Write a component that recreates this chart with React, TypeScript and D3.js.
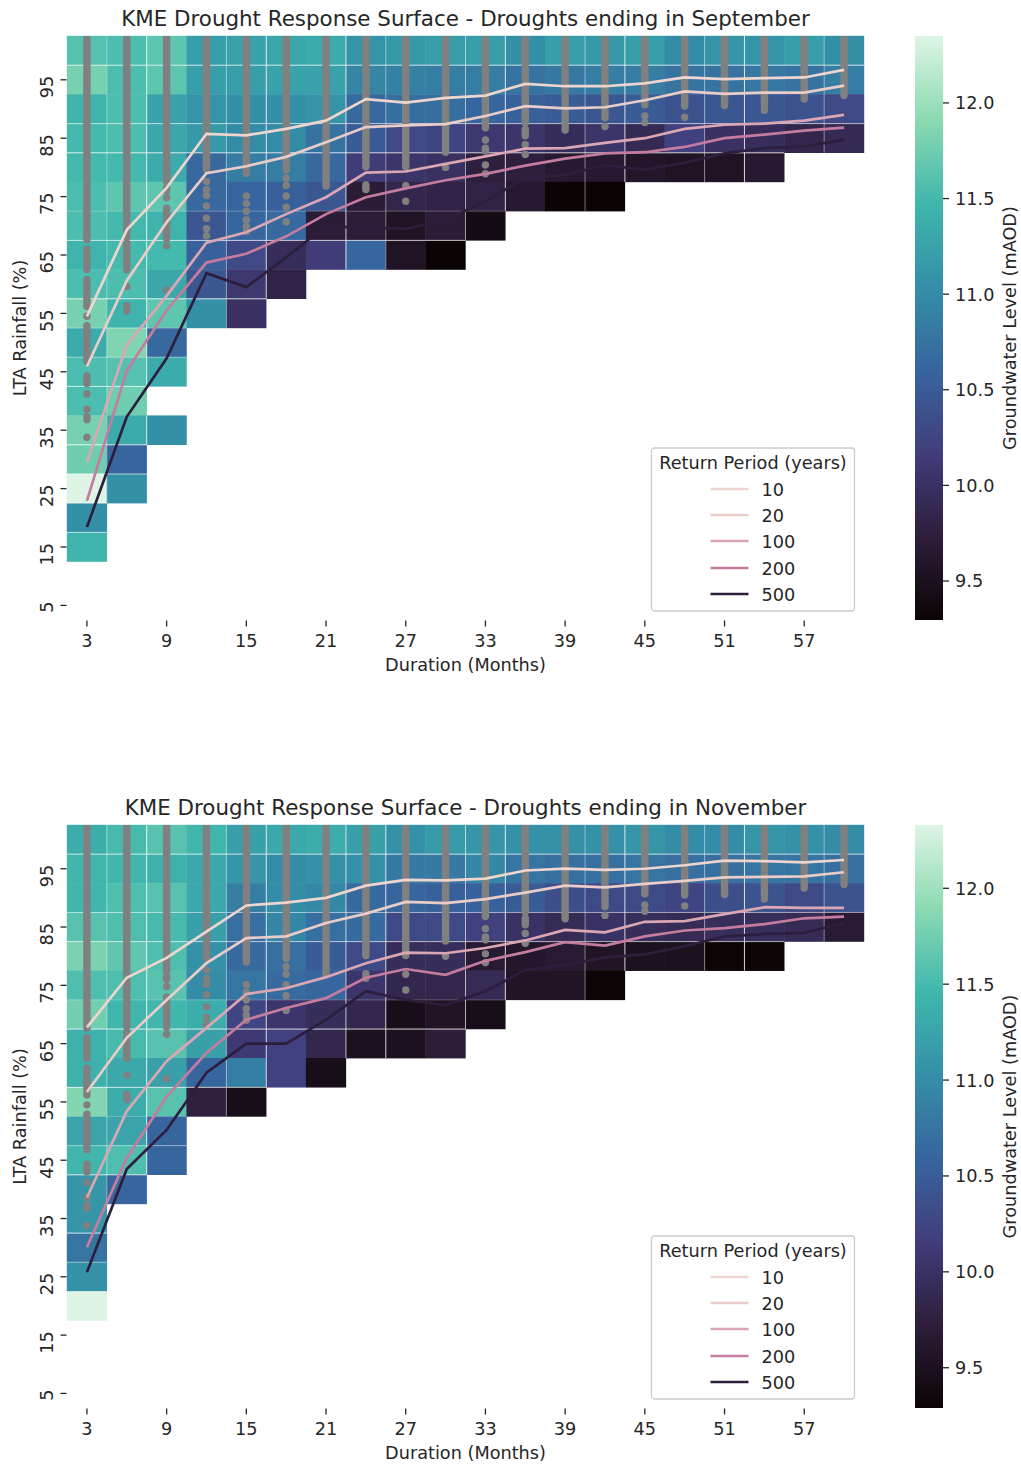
import React from "react";
import * as d3 from "d3";

const durations = [3,6,9,12,15,18,21,24,27,30,33,36,39,42,45,48,51,54,57,60];
const rainfallRows = [100,95,90,85,80,75,70,65,60,55,50,45,40,35,30,25,20,15,10,5];
const xTicks = [3,9,15,21,27,33,39,45,51,57];
const yTicks = [95,85,75,65,55,45,35,25,15,5];
const cbarTicks = [9.5,10,10.5,11,11.5,12];
const returnPeriods = ["10","20","100","200","500"];
const lineColors = ["#eed5cf","#eacdc9","#dba7b4","#c47d9e","#2d1e3e"];
const makoStops = ["#0B0405","#2e1e3b","#413d7b","#37659e","#348fa7","#40b7ad","#8bdab2","#DEF5E5"];

const sepGrid: number[][] = [
  [11.6,11.55,11.65,11.2,11.25,11.3,11.35,11.1,11.15,11.2,11.2,11.05,11.2,11.15,11.2,11.0,11.1,11.1,11.2,11.05],
  [11.8,11.55,11.65,11.2,11.2,11.25,11.25,10.95,10.9,10.85,10.85,10.75,10.8,10.85,10.85,10.75,10.75,10.8,10.75,10.85],
  [11.45,11.55,11.25,11.1,11.05,11.05,11.1,10.65,10.7,10.7,10.6,10.55,10.5,10.45,10.5,10.4,10.45,10.45,10.4,10.3],
  [11.5,11.55,11.3,11.15,11.0,11.0,10.75,10.5,10.3,10.25,10.1,10.05,9.95,10.05,9.9,10.2,10.0,9.95,9.85,9.9],
  [11.5,11.5,11.35,10.65,10.85,10.85,10.65,10.15,10.05,10.0,9.75,9.75,9.65,9.65,9.6,9.55,9.55,9.65],
  [11.55,11.65,11.65,10.65,10.6,10.55,10.45,9.7,9.85,9.8,9.8,9.65,9.3,9.3],
  [11.55,11.5,11.45,10.45,10.6,10.65,9.7,9.72,9.55,9.7,9.42],
  [11.45,11.5,11.5,10.55,10.3,9.95,10.15,10.6,9.55,9.3],
  [11.55,11.55,11.3,10.45,10.1,9.8],
  [11.8,11.45,11.65,11.05,10.0],
  [11.35,11.85,10.65],
  [11.55,11.6,11.35],
  [11.55,11.75],
  [11.8,11.35,11.05],
  [11.75,10.6],
  [12.35,11.05],
  [11.05],
  [11.45],
  [],
  [],
];

const novGrid: number[][] = [
  [11.35,11.5,11.6,11.45,11.2,11.3,11.35,11.2,11.05,11.15,11.1,11.05,11.05,11.05,11.1,11.0,11.0,11.1,11.05,11.0],
  [11.45,11.45,11.4,11.3,11.1,11.0,11.05,11.05,10.8,10.8,10.95,10.75,10.7,10.7,10.75,10.7,10.7,10.75,10.75,10.7],
  [11.45,11.55,11.6,11.3,10.85,11.0,10.95,10.65,10.6,10.55,10.55,10.5,10.35,10.3,10.3,10.25,10.35,10.4,10.3,10.4],
  [11.6,11.55,11.5,11.2,10.7,10.95,10.7,10.65,10.3,10.3,10.2,10.0,9.9,10.0,9.95,9.9,9.95,9.95,9.9,9.65],
  [11.8,11.65,11.55,11.05,10.65,10.7,10.5,10.3,9.95,9.95,9.65,9.6,9.65,9.55,9.5,9.5,9.3,9.3],
  [11.55,11.55,11.6,11.0,10.75,10.65,10.6,10.05,9.85,9.85,9.9,9.55,9.55,9.3],
  [11.75,11.45,11.45,11.35,10.25,10.05,9.95,9.85,9.45,9.55,9.45],
  [11.4,11.5,11.6,11.2,10.1,10.2,9.85,9.5,9.5,9.7],
  [11.4,11.3,11.2,10.6,10.85,10.2,9.45],
  [11.85,11.35,11.6,9.75,9.45],
  [11.25,11.25,10.6],
  [11.45,11.55,10.6],
  [11.1,10.6],
  [11.1],
  [10.75],
  [11.05],
  [12.33],
  [],
  [],
  [],
];

const sepLines: number[][] = [
  [54.5,69.3,76.5,85.75,85.5,86.6,88.0,91.7,91.1,91.9,92.3,94.3,93.9,93.9,94.4,95.4,95.1,95.3,95.4,96.7],
  [45.9,60.6,70.6,79.0,80.2,81.8,84.3,86.9,87.2,87.4,88.8,90.5,90.1,90.3,91.5,93.0,92.6,92.8,92.8,94.0],
  [29.5,49.6,58.0,67.1,68.9,72.0,74.9,79.1,79.3,80.6,81.9,83.2,83.3,84.2,85.0,86.6,87.3,87.5,88.0,89.0],
  [22.9,45.2,55.5,63.7,65.2,68.2,72.0,74.9,76.4,77.8,78.9,80.3,81.5,82.4,82.6,83.5,85.0,85.6,86.3,86.8],
  [18.4,37.3,47.3,61.9,59.5,64.6,70.0,69.6,69.5,71.0,74.2,78.2,78.7,80.4,79.6,80.8,82.4,83.3,83.6,84.7],
];

const novLines: number[][] = [
  [67.8,76.3,79.7,84.2,88.7,89.2,90.0,92.1,93.1,93.0,93.3,94.7,95.0,94.8,95.0,95.6,96.4,96.3,96.1,96.5],
  [56.7,66.0,72.5,78.8,83.1,83.4,85.7,87.3,89.3,89.1,89.8,90.9,92.1,91.8,92.4,92.9,93.5,93.6,93.7,94.4],
  [38.6,53.4,62.0,67.7,73.5,74.5,76.4,78.8,80.6,80.5,81.4,82.7,84.5,84.1,85.9,86.0,87.2,88.4,88.3,88.3],
  [30.1,45.4,55.9,63.4,69.1,71.1,72.8,76.3,77.8,76.8,79.2,80.7,82.4,81.8,83.4,84.4,84.8,85.5,86.5,86.8],
  [25.8,43.5,50.2,60.0,65.0,65.0,69.1,74.0,72.5,71.6,74.0,77.6,78.5,79.8,80.3,81.7,83.4,83.8,84.0,85.7],
];

// observed droughts per duration, as [high, low] stretches of LTA rainfall (%)
const droughtDots: [number, [number, number][]][] = [
  [3, [[103,67.6],[66,62.5],[60.8,56.2],[54.5,54.5],[52.9,46.8],[44.3,43],[41.2,41.2],[38.6,38.6],[37.3,36.8],[33.8,33.8]]],
  [6, [[103,68],[67,62.5],[59.6,59.6],[56.3,55.4]]],
  [9, [[103,77.5],[76.5,76],[74.8,74.8],[73,67.8],[66.6,66.6],[59,59]]],
  [12, [[103,79.6],[77.6,77.6],[76.2,76.2],[75.2,75.2],[73.4,73.4],[71.3,71.3],[69.5,69.5],[68.3,68.3]]],
  [15, [[103,79],[75.1,75.1],[73.8,73.8],[72.5,72.5],[71,71],[69.9,69.9],[69,69]]],
  [18, [[103,79.6],[78.2,78.2],[76.9,76.9],[75.1,75.1],[73.2,73.2],[70.7,70.7]]],
  [21, [[103,76.8]]],
  [24, [[103,80.1],[77,76.2]]],
  [27, [[103,80.1],[76.9,76.9],[74.2,74.2]]],
  [30, [[103,82.6],[80,80]]],
  [33, [[103,86.8],[84.7,84.7],[83.3,82.8],[80.4,80.4],[78.9,78.9]]],
  [36, [[103,87.6],[86.5,85.4],[83.9,83.9],[82.2,82.2]]],
  [39, [[103,86.4]]],
  [42, [[103,88.5],[87,87]]],
  [45, [[103,90.7],[88.8,88.8],[87.7,87.7]]],
  [48, [[103,90.5],[88.6,88.6]]],
  [51, [[103,90.6]]],
  [54, [[103,90.4],[89.8,89.8]]],
  [57, [[103,91.7]]],
  [60, [[103,92.3]]],
];

const vSeamsTop = [0,.4,.9,0,.5,.9,0,.9,.5,0,.6,.9,0,.5,.9,0,.5,.9,0,.5];
const hSeamsTop = [0,.85,0,.7,.9,0,.3,.8,0,.9,.5,.5,.8,0,.9,.7,.7,.7,0,0];
const vSeamsBottom = [0,.5,.95,0,.5,.9,0,.8,.9,0,.7,.9,0,.5,.9,0,.5,.9,0,.5];
const hSeamsBottom = [0,.85,0,.6,.7,0,.3,.9,0,.8,.2,.5,.9,0,.9,.5,0,0,0,0];

const FONT = "'DejaVu Sans', sans-serif";
const TXT = "#262626";
const FS = 17.7;

const mako = d3.scaleLinear<string>()
  .domain(makoStops.map((_, i) => i / (makoStops.length - 1)))
  .range(makoStops)
  .interpolate(d3.interpolateRgb);

type PanelProps = {
  id: string; title: string; grid: number[][]; lines: number[][];
  top: number; bottom: number;
  vMin: number; vMax: number; vSeams: number[]; hSeams: number[];
};

function Panel(p: PanelProps) {
  const left = 67, right = 864;
  const colW = (right - left) / durations.length;
  const rowH = (p.bottom - p.top) / rainfallRows.length;
  const x = d3.scaleLinear().domain([3, 60]).range([left + colW / 2, right - colW / 2]);
  const y = d3.scaleLinear().domain([100, 5]).range([p.top + rowH / 2, p.bottom - rowH / 2]);
  const cbarY = d3.scaleLinear().domain([p.vMin, p.vMax]).range([p.bottom, p.top]);
  const color = (v: number) => mako((v - p.vMin) / (p.vMax - p.vMin));
  const lineGen = d3.line<number>().x((_, i) => x(durations[i])).y(v => y(v));
  const gradId = `cbar-${p.id}`;
  const clipId = `clip-${p.id}`;
  const midY = (p.top + p.bottom) / 2;
  const legendTop = p.bottom - 172;
  const legendRows = [41, 67, 93, 120, 146];
  return (
    <g fontFamily={FONT} fill={TXT}>
      <defs>
        <linearGradient id={gradId} x1="0" y1="1" x2="0" y2="0">
          {makoStops.map((c, i) => <stop key={i} offset={i / (makoStops.length - 1)} stopColor={c} />)}
        </linearGradient>
        <clipPath id={clipId}><rect x={left} y={p.top} width={right - left} height={p.bottom - p.top} /></clipPath>
      </defs>
      <text x={465.5} y={p.top - 10} textAnchor="middle" fontSize={21.4}>{p.title}</text>

      {p.grid.map((row, r) => row.map((v, c) => (
        <rect key={`${r}-${c}`} x={x(durations[c]) - colW / 2 - 0.2} y={y(rainfallRows[r]) - rowH / 2 - 0.2}
          width={colW + 0.4} height={rowH + 0.4} fill={color(v)} />
      )))}
      {p.grid.map((row, r) => row.map((_, c) => {
        const cx = x(durations[c]) - colW / 2, cy = y(rainfallRows[r]) - rowH / 2;
        return (
          <g key={`s-${r}-${c}`} stroke="#fff" strokeWidth={0.9}>
            {p.hSeams[r] > 0 && <line x1={cx} x2={cx + colW} y1={cy} y2={cy} strokeOpacity={p.hSeams[r]} />}
            {p.vSeams[c] > 0 && <line x1={cx} x2={cx} y1={cy} y2={cy + rowH} strokeOpacity={p.vSeams[c]} />}
          </g>
        );
      }))}

      <g clipPath={`url(#${clipId})`}>
        {droughtDots.map(([d, runs]) => runs.map(([hi, lo], i) => (
          <line key={`${d}-${i}`} x1={x(d)} x2={x(d)} y1={y(hi)} y2={y(lo) + 0.01}
            stroke="#808080" strokeWidth={7.4} strokeLinecap="round" />
        )))}
        {p.lines.map((vals, i) => (
          <path key={i} d={lineGen(vals) ?? ""} fill="none" stroke={lineColors[i]} strokeWidth={2.7} />
        ))}
      </g>

      {xTicks.map(t => (
        <g key={t}>
          <line x1={x(t)} x2={x(t)} y1={p.bottom + 0.5} y2={p.bottom + 6.5} stroke={TXT} strokeWidth={1.3} />
          <text x={x(t)} y={p.bottom + 26.5} textAnchor="middle" fontSize={FS}>{t}</text>
        </g>
      ))}
      {yTicks.map(t => (
        <g key={t}>
          <line x1={60.5} x2={66.5} y1={y(t)} y2={y(t)} stroke={TXT} strokeWidth={1.3} />
          <text transform={`translate(52.5,${y(t) - 4}) rotate(-90)`} textAnchor="end" fontSize={FS}>{t}</text>
        </g>
      ))}
      <text x={465.5} y={p.bottom + 51} textAnchor="middle" fontSize={FS}>Duration (Months)</text>
      <text transform={`translate(26,${midY}) rotate(-90)`} textAnchor="middle" fontSize={FS}>LTA Rainfall (%)</text>

      <g transform={`translate(651.5,${legendTop})`}>
        <rect width={203} height={163} rx={3} fill="#fff" fillOpacity={0.8} stroke="#cccccc" strokeWidth={1.3} />
        <text x={101.5} y={21} textAnchor="middle" fontSize={FS}>Return Period (years)</text>
        {returnPeriods.map((rp, i) => (
          <g key={rp}>
            <line x1={59} x2={97} y1={legendRows[i]} y2={legendRows[i]} stroke={lineColors[i]} strokeWidth={2.7} />
            <text x={110} y={legendRows[i] + 6.5} fontSize={FS}>{rp}</text>
          </g>
        ))}
      </g>

      <rect x={915} y={p.top} width={28} height={p.bottom - p.top} fill={`url(#${gradId})`} />
      {cbarTicks.map(t => (
        <g key={t}>
          <line x1={943} x2={949} y1={cbarY(t)} y2={cbarY(t)} stroke={TXT} strokeWidth={1.3} />
          <text x={955} y={cbarY(t) + 6.5} fontSize={FS}>{t.toFixed(1)}</text>
        </g>
      ))}
      <text transform={`translate(1015.5,${midY}) rotate(-90)`} textAnchor="middle" fontSize={FS}>Groundwater Level (mAOD)</text>
    </g>
  );
}

export default function App() {
  return (
    <svg width={1021} height={1469} style={{ position: "absolute", left: 0, top: 0, background: "#fff" }}>
      <Panel id="sep" title="KME Drought Response Surface - Droughts ending in September" grid={sepGrid} lines={sepLines}
        top={36} bottom={620} vMin={9.296} vMax={12.35} vSeams={vSeamsTop} hSeams={hSeamsTop} />
      <Panel id="nov" title="KME Drought Response Surface - Droughts ending in November" grid={novGrid} lines={novLines}
        top={825} bottom={1408} vMin={9.29} vMax={12.33} vSeams={vSeamsBottom} hSeams={hSeamsBottom} />
    </svg>
  );
}
